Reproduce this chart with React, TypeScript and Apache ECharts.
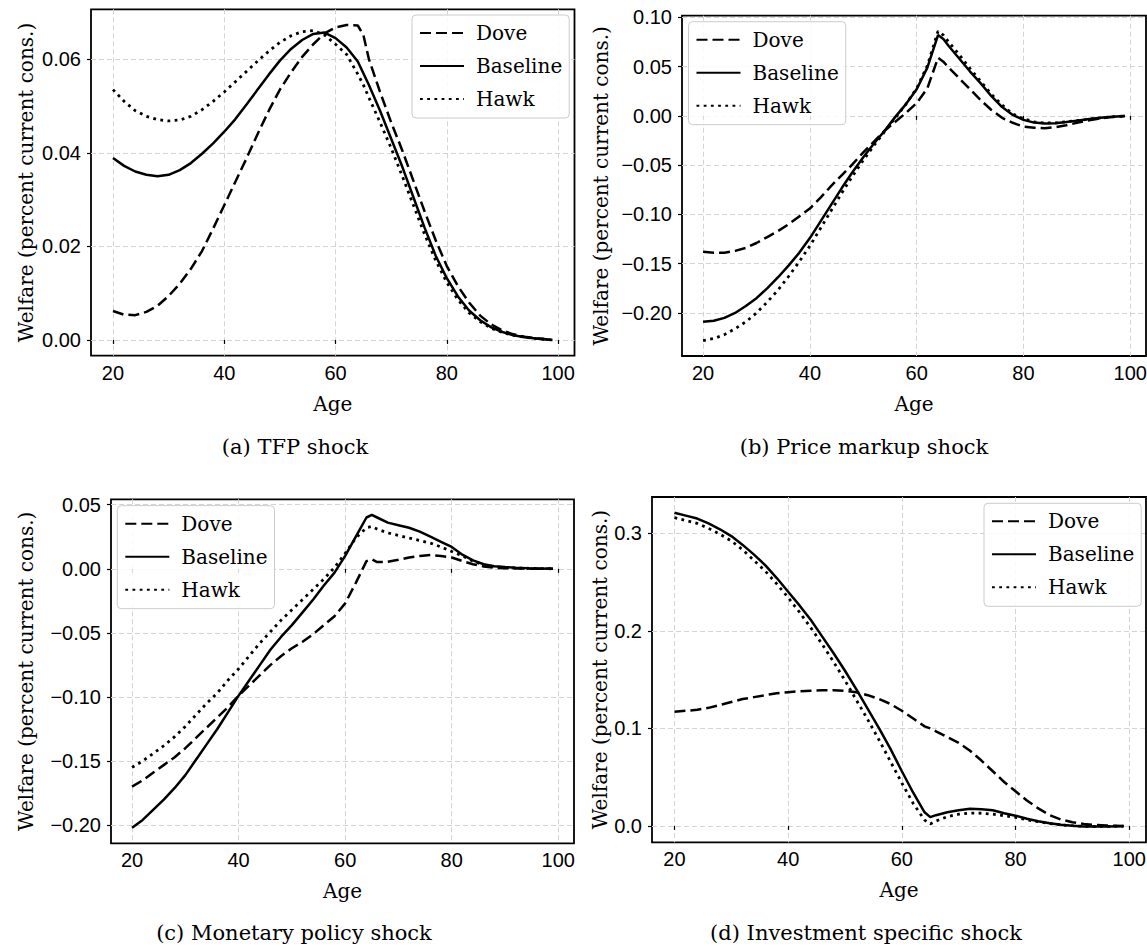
import React, { useEffect, useRef } from "react";
import * as echarts from "echarts";

// ---------- data ----------
const AGES = [20, 22, 24, 26, 28, 30, 32, 34, 36, 38, 40, 42, 44, 46, 48, 50, 52, 54, 56, 58, 60, 62, 64, 65, 66, 68, 70, 72, 74, 76, 78, 80, 82, 84, 86, 88, 90, 92, 94, 96, 99];

const SERIES_NAMES = ["Dove", "Baseline", "Hawk"];

// (a) TFP shock
const TFP_DOVE = [0.0062, 0.0054, 0.0053, 0.006, 0.0073, 0.0094, 0.012, 0.0152, 0.019, 0.0238, 0.0288, 0.0338, 0.0388, 0.044, 0.049, 0.0535, 0.0572, 0.0605, 0.0632, 0.0655, 0.0668, 0.0673, 0.0672, 0.0652, 0.06, 0.053, 0.0465, 0.0405, 0.034, 0.0275, 0.0213, 0.0158, 0.0115, 0.008, 0.0052, 0.0033, 0.002, 0.0012, 0.0007, 0.0004, 0.0];
const TFP_BASE = [0.0389, 0.0372, 0.036, 0.0353, 0.035, 0.0353, 0.0363, 0.0378, 0.0398, 0.042, 0.0445, 0.0472, 0.0503, 0.0535, 0.0567, 0.0597, 0.0622, 0.0641, 0.0654, 0.0657, 0.0645, 0.0625, 0.0595, 0.057, 0.0545, 0.049, 0.043, 0.037, 0.0305, 0.024, 0.018, 0.0132, 0.0093, 0.0063, 0.0042, 0.0027, 0.0017, 0.001, 0.0006, 0.0003, 0.0];
const TFP_HAWK = [0.0535, 0.051, 0.049, 0.0478, 0.0471, 0.0468, 0.047, 0.0478, 0.0492, 0.051, 0.053, 0.0552, 0.0574, 0.0596, 0.0617, 0.0636, 0.065, 0.0659, 0.0661, 0.0652, 0.0632, 0.061, 0.0568, 0.0545, 0.0518, 0.0465, 0.041, 0.035, 0.0288, 0.0226, 0.017, 0.0123, 0.0086, 0.0058, 0.0039, 0.0025, 0.0016, 0.001, 0.0006, 0.0003, 0.0];

// (b) Price markup shock
const PM_DOVE = [-0.138, -0.139, -0.139, -0.137, -0.134, -0.129, -0.123, -0.117, -0.11, -0.102, -0.094, -0.083, -0.071, -0.06, -0.049, -0.037, -0.026, -0.015, -0.006, 0.003, 0.013, 0.028, 0.059, 0.055, 0.049, 0.038, 0.027, 0.016, 0.006, -0.002, -0.007, -0.011, -0.012, -0.0125, -0.0115, -0.0095, -0.007, -0.0048, -0.003, -0.0015, 0.0];
const PM_BASE = [-0.209, -0.208, -0.205, -0.2, -0.193, -0.185, -0.175, -0.164, -0.152, -0.139, -0.124, -0.107, -0.09, -0.073, -0.057, -0.042, -0.028, -0.015, -0.001, 0.012, 0.027, 0.049, 0.082, 0.078, 0.071, 0.058, 0.045, 0.033, 0.02, 0.009, 0.001, -0.004, -0.0068, -0.0078, -0.0075, -0.0062, -0.0048, -0.0035, -0.0022, -0.0012, 0.0];
const PM_HAWK = [-0.228, -0.226, -0.222, -0.216, -0.209, -0.2, -0.189, -0.177, -0.163, -0.148, -0.132, -0.114, -0.096, -0.078, -0.061, -0.045, -0.03, -0.016, -0.002, 0.012, 0.028, 0.051, 0.086, 0.082, 0.075, 0.062, 0.048, 0.035, 0.022, 0.011, 0.002, -0.003, -0.006, -0.0072, -0.007, -0.006, -0.0048, -0.0035, -0.0022, -0.0012, 0.0];

// (c) Monetary policy shock
const MP_DOVE = [-0.17, -0.165, -0.159, -0.153, -0.147, -0.14, -0.132, -0.124, -0.116, -0.108, -0.099, -0.091, -0.083, -0.075, -0.068, -0.062, -0.057, -0.051, -0.044, -0.037, -0.027, -0.011, 0.006, 0.0075, 0.0052, 0.0055, 0.007, 0.0088, 0.01, 0.0107, 0.01, 0.0088, 0.006, 0.0035, 0.0018, 0.0008, 0.0004, 0.0002, 0.0001, 0.0001, 0.0];
const MP_BASE = [-0.202, -0.196, -0.188, -0.18, -0.171, -0.161, -0.149, -0.137, -0.125, -0.112, -0.099, -0.087, -0.075, -0.063, -0.053, -0.044, -0.034, -0.024, -0.013, -0.003, 0.01, 0.025, 0.04, 0.042, 0.04, 0.036, 0.034, 0.032, 0.029, 0.025, 0.021, 0.017, 0.011, 0.0065, 0.0035, 0.002, 0.0013, 0.0008, 0.0005, 0.0003, 0.0];
const MP_HAWK = [-0.155, -0.15, -0.144, -0.138, -0.131, -0.123, -0.114, -0.105, -0.097, -0.087, -0.078, -0.068, -0.058, -0.049, -0.04, -0.032, -0.024, -0.016, -0.008, 0.001, 0.012, 0.024, 0.032, 0.033, 0.031, 0.028, 0.026, 0.024, 0.022, 0.02, 0.017, 0.0135, 0.01, 0.006, 0.003, 0.0015, 0.001, 0.0006, 0.0004, 0.0002, 0.0];

// (d) Investment specific shock
const IS_DOVE = [0.117, 0.118, 0.119, 0.121, 0.124, 0.127, 0.13, 0.132, 0.134, 0.136, 0.137, 0.138, 0.1385, 0.139, 0.139, 0.1385, 0.137, 0.134, 0.13, 0.125, 0.118, 0.11, 0.102, 0.1, 0.097, 0.091, 0.085, 0.077, 0.067, 0.056, 0.045, 0.0355, 0.026, 0.018, 0.011, 0.0065, 0.0038, 0.002, 0.001, 0.0004, 0.0];
const IS_BASE = [0.321, 0.318, 0.315, 0.31, 0.304, 0.297, 0.288, 0.278, 0.267, 0.254, 0.24, 0.226, 0.211, 0.194, 0.177, 0.159, 0.14, 0.12, 0.1, 0.079, 0.056, 0.034, 0.014, 0.009, 0.011, 0.014, 0.016, 0.0175, 0.0172, 0.016, 0.013, 0.0105, 0.0073, 0.0048, 0.0028, 0.0012, 0.0002, -0.0005, -0.0007, -0.0006, -0.0003];
const IS_HAWK = [0.316, 0.313, 0.31, 0.305, 0.299, 0.292, 0.283, 0.272, 0.261, 0.248, 0.234, 0.219, 0.203, 0.186, 0.168, 0.149, 0.129, 0.109, 0.088, 0.066, 0.044, 0.023, 0.006, 0.002, 0.005, 0.0095, 0.012, 0.0132, 0.013, 0.012, 0.0105, 0.0088, 0.0063, 0.0043, 0.0025, 0.001, 0.0002, -0.0004, -0.0006, -0.0005, -0.0002];

// tick labels
const X_TICKS = [20, 40, 60, 80, 100];
const Y_TICKS_A = [0, 0.02, 0.04, 0.06];
const Y_TICKS_B = [-0.2, -0.15, -0.1, -0.05, 0, 0.05, 0.1];
const Y_TICKS_C = [-0.2, -0.15, -0.1, -0.05, 0, 0.05];
const Y_TICKS_D = [0, 0.1, 0.2, 0.3];

const CAPTIONS = ["(a) TFP shock", "(b) Price markup shock", "(c) Monetary policy shock", "(d) Investment specific shock"];
const X_LABEL = "Age";
const Y_LABEL = "Welfare (percent current cons.)";

// ---------- layout / style ----------
const SERIF = "'DejaVu Serif', serif";
const TICK_FONT = "'Liberation Sans', Arial, sans-serif";

const PANELS = [
  { data: [TFP_DOVE, TFP_BASE, TFP_HAWK], yTicks: Y_TICKS_A, dec: 2, grid: { left: 91, top: 9.3, width: 483.5, height: 346.4 }, legend: { left: 412, top: 15 }, yGap: 55, cap: [295, 447] },
  { data: [PM_DOVE, PM_BASE, PM_HAWK], yTicks: Y_TICKS_B, dec: 2, grid: { left: 682, top: 15.7, width: 464, height: 340.3 }, legend: { left: 688.5, top: 21.7 }, yGap: 71, cap: [864, 447] },
  { data: [MP_DOVE, MP_BASE, MP_HAWK], yTicks: Y_TICKS_C, dec: 2, grid: { left: 111, top: 499.3, width: 463, height: 344 }, legend: { left: 117.3, top: 505.7 }, yGap: 75, cap: [294, 933] },
  { data: [IS_DOVE, IS_BASE, IS_HAWK], yTicks: Y_TICKS_D, dec: 1, grid: { left: 652, top: 497, width: 494, height: 345.3 }, legend: { left: 984, top: 503.3 }, yGap: 41, cap: [866, 933] },
];

const LINE_TYPES: any[] = [[11, 5], "solid", [2.8, 4.4]];
const LINE_WIDTHS = [2.5, 2.5, 2.8];

const fmt = (v: number, dec: number) => {
  const s = Math.abs(v).toFixed(dec);
  return v < -1e-9 ? "\u2212" + s : s;
};

const padMin = (v: any) => v.min - 0.05 * (v.max - v.min);
const padMax = (v: any) => v.max + 0.05 * (v.max - v.min);

function buildOption() {
  const grid: any[] = [];
  const xAxis: any[] = [];
  const yAxis: any[] = [];
  const series: any[] = [];
  const legend: any[] = [];
  const graphic: any[] = [];

  PANELS.forEach((p, i) => {
    grid.push({
      ...p.grid,
      show: true,
      borderColor: "#000",
      borderWidth: 1.8,
      backgroundColor: "transparent",
      containLabel: false,
      outerBoundsMode: "none",
    });
    xAxis.push({
      type: "value",
      gridIndex: i,
      min: padMin,
      max: padMax,
      axisLine: { show: false },
      axisTick: { show: true, inside: false, length: 4, lineStyle: { color: "#000", width: 1.2 }, customValues: X_TICKS },
      axisLabel: { customValues: X_TICKS, fontSize: 20, fontFamily: TICK_FONT, color: "#000", margin: 7, formatter: (v: number) => String(v) },
      splitLine: { show: true, lineStyle: { color: "#d4d4d4", type: [5, 3], width: 1 } },
      name: X_LABEL,
      nameLocation: "middle",
      nameGap: 38,
      nameTextStyle: { fontSize: 20, fontFamily: SERIF, color: "#000" },
    });
    yAxis.push({
      type: "value",
      gridIndex: i,
      min: padMin,
      max: padMax,
      axisLine: { show: false },
      axisTick: { show: true, inside: false, length: 4, lineStyle: { color: "#000", width: 1.2 }, customValues: p.yTicks },
      axisLabel: { customValues: p.yTicks, fontSize: 20, fontFamily: TICK_FONT, color: "#000", margin: 10, formatter: (v: number) => fmt(v, p.dec) },
      splitLine: { show: true, lineStyle: { color: "#d4d4d4", type: [5, 3], width: 1 } },
      name: Y_LABEL,
      nameLocation: "middle",
      nameRotate: 90,
      nameGap: p.yGap,
      nameTextStyle: { fontSize: 20, fontFamily: SERIF, color: "#000" },
    });
    p.data.forEach((vals, k) => {
      series.push({
        type: "line",
        name: SERIES_NAMES[k],
        xAxisIndex: i,
        yAxisIndex: i,
        data: AGES.map((a, j) => [a, vals[j]]),
        symbol: "none",
        showSymbol: false,
        smooth: false,
        lineStyle: { color: "#000", width: LINE_WIDTHS[k], type: LINE_TYPES[k], cap: "butt" },
        itemStyle: { color: "#000" },
        emphasis: { disabled: true },
        z: 3,
      });
    });
    legend.push({
      left: p.legend.left,
      top: p.legend.top,
      orient: "vertical",
      data: SERIES_NAMES,
      selectedMode: false,
      itemWidth: 44,
      itemHeight: 14,
      itemGap: 13,
      padding: [8, 7, 9, 7],
      backgroundColor: "rgba(255,255,255,0.85)",
      borderColor: "#cccccc",
      borderWidth: 1,
      borderRadius: 4,
      itemStyle: { opacity: 0, color: "rgba(0,0,0,0)", borderWidth: 0 },
      textStyle: { fontSize: 20, fontFamily: SERIF, color: "#000", padding: [0, 0, 0, 7] },
      z: 10,
    });
    graphic.push({
      type: "text",
      x: p.cap[0],
      y: p.cap[1],
      style: {
        text: CAPTIONS[i],
        fontSize: 21,
        fontFamily: SERIF,
        fill: "#000",
        align: "center",
        verticalAlign: "middle",
        textAlign: "center",
        textVerticalAlign: "middle",
      },
    });
  });

  return {
    animation: false,
    backgroundColor: "#fff",
    grid,
    xAxis,
    yAxis,
    series,
    legend,
    graphic,
  };
}

export default function App() {
  const ref = useRef<HTMLDivElement>(null);
  useEffect(() => {
    if (!ref.current) return;
    const chart = echarts.init(ref.current, null, { renderer: "svg" });
    chart.setOption(buildOption() as any);
    return () => chart.dispose();
  }, []);
  return (
    <div
      ref={ref}
      style={{ position: "absolute", left: 0, top: 0, width: 1147, height: 948, background: "#fff" }}
    />
  );
}
